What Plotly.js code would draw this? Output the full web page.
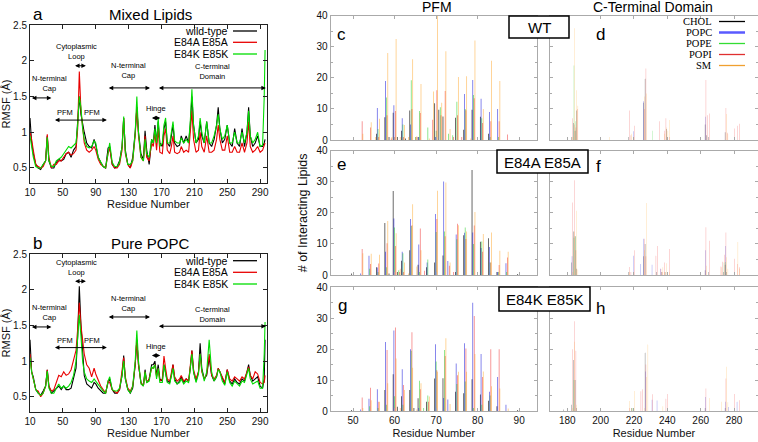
<!DOCTYPE html>
<html><head><meta charset="utf-8">
<script src="https://cdn.plot.ly/plotly-3.0.1.min.js"></script>
<style>html,body{margin:0;padding:0;background:#fff}#chart{width:758px;height:442px}</style>
</head><body><div id="chart"></div>
<script>
// ---------- RMSF line data (panels a, b) ----------
const rmsfResidues = [10,12,14,17,20,23,26,29,31,33,36,39,42,45,48,51,54,57,60,63,66,68,70,72,74,76,79,82,85,88,90,93,96,99,102,105,107,110,113,116,119,122,124,126,129,132,135,138,140,142,145,148,150,152,155,158,160,162,164,166,168,171,173,175,177,180,182,184,186,189,192,194,197,200,203,205,207,209,212,215,217,219,222,225,228,231,234,237,239,241,244,247,250,253,256,259,262,265,268,271,274,276,278,281,284,287,290,293,295,296];
const mixedWT = [1.2,0.85,0.7,0.55,0.5,0.48,0.55,0.6,0.95,0.6, 0.5,0.5,0.58,0.62,0.6,0.62,0.7,0.72,0.65,0.75, 0.8,1.1,1.5,1.25,1.1,1.0,0.85,0.8,0.78,0.9, 0.82,0.65,0.58,0.52,0.5,0.78,0.8,0.55,0.5,0.52, 0.6,0.8,1.2,0.75,0.55,0.5,0.65,1.0,1.35,1.0, 0.7,0.62,1.02,0.75,0.55,0.9,0.85,1.1,0.85,1.15, 0.85,0.8,1.05,1.15,0.85,0.8,0.95,1.1,0.85,0.8, 0.82,0.95,0.85,0.95,0.85,1.1,1.5,1.1,0.85,0.9, 1.15,0.95,0.85,1.15,0.85,0.8,0.9,1.1,1.35,1.05, 0.85,0.9,1.1,0.85,0.8,1.05,0.85,0.8,1.05,0.8, 1.0,1.35,0.95,0.8,0.85,0.95,0.8,0.8,0.85,0.9];
const mixedAA = [1.0,0.9,0.75,0.55,0.52,0.5,0.52,0.6,0.97,0.65, 0.5,0.55,0.55,0.6,0.6,0.65,0.7,0.72,0.68,0.7, 0.75,1.05,1.85,1.3,1.05,0.85,0.75,0.72,0.75,0.8, 0.75,0.62,0.55,0.52,0.5,0.7,0.78,0.55,0.5,0.5, 0.55,0.75,1.2,0.7,0.55,0.5,0.6,0.95,1.35,0.95, 0.65,0.6,0.95,0.65,0.6,0.85,0.8,1.0,0.75,1.05, 0.72,0.7,0.95,1.05,0.75,0.7,0.8,0.95,0.72,0.7, 0.72,0.8,0.72,0.75,0.72,1.0,1.3,0.9,0.72,0.75, 1.0,0.8,0.72,0.95,0.72,0.72,0.75,0.9,1.1,0.9, 0.75,0.75,0.95,0.72,0.72,0.8,0.72,0.72,0.85,0.72, 0.85,1.15,0.8,0.72,0.75,0.8,0.72,0.75,0.8,0.85];
const mixedKK = [0.95,0.8,0.65,0.52,0.5,0.5,0.55,0.6,0.93,0.6, 0.52,0.52,0.6,0.62,0.65,0.7,0.75,0.8,0.78,0.82, 0.85,1.1,1.5,1.35,1.05,0.9,0.8,0.78,0.8,0.88, 0.85,0.65,0.58,0.52,0.5,0.75,0.85,0.58,0.52,0.52, 0.58,0.8,1.22,0.72,0.55,0.55,0.6,1.0,1.5,1.0, 0.65,0.6,0.9,0.7,0.65,0.9,0.85,1.05,0.85,1.2, 0.8,0.85,1.1,1.2,0.85,0.85,1.0,1.15,0.88,0.85, 0.85,0.92,0.85,0.9,0.85,1.15,1.6,1.1,0.85,0.95, 1.2,1.0,0.85,1.15,0.85,0.85,0.95,1.1,1.25,1.05, 0.9,0.95,1.1,0.85,0.85,1.0,0.85,0.85,1.0,0.85, 1.0,1.3,0.95,0.85,0.9,1.0,0.8,0.82,1.5,2.15];
const popcWT = [1.3,0.85,0.78,0.6,0.55,0.52,0.58,0.65,0.88,0.65, 0.55,0.58,0.62,0.65,0.6,0.65,0.6,0.6,0.62,0.75, 0.9,1.35,2.05,1.5,1.05,0.8,0.68,0.65,0.62,0.7, 0.68,0.62,0.58,0.55,0.55,0.7,0.75,0.6,0.55,0.55, 0.6,0.8,1.08,0.75,0.6,0.55,0.62,0.95,1.3,0.95, 0.7,0.65,0.88,0.7,0.75,0.95,0.95,1.0,0.8,0.95, 0.75,0.72,0.95,0.85,0.72,0.7,0.8,0.95,0.75,0.68, 0.72,0.78,0.7,0.75,0.72,0.9,1.15,0.85,0.72,0.85, 1.25,0.9,0.75,0.8,1.05,0.8,0.72,0.78,0.9,0.85, 0.75,0.68,0.88,0.72,0.68,0.75,0.7,0.68,0.75,0.72, 0.85,0.95,0.8,0.72,0.75,0.78,0.65,0.62,0.75,1.3];
const popcAA = [1.1,0.85,0.75,0.6,0.58,0.5,0.55,0.65,0.88,0.65, 0.58,0.6,0.7,0.8,0.78,0.85,0.8,0.82,0.88,1.0, 1.15,1.45,1.82,1.5,1.25,1.1,0.95,0.9,0.78,0.9, 0.82,0.72,0.65,0.6,0.55,0.72,0.7,0.6,0.58,0.55, 0.6,0.85,1.05,0.78,0.62,0.58,0.65,0.95,1.3,0.95, 0.7,0.65,0.85,0.7,0.75,0.9,0.9,0.95,0.78,0.9, 0.72,0.75,1.07,0.9,0.75,0.72,0.85,0.95,0.78,0.72, 0.75,0.8,0.72,0.75,0.72,0.92,1.15,0.88,0.75,0.85, 1.1,0.85,0.75,0.82,1.1,0.8,0.75,0.8,0.9,0.85, 0.78,0.7,0.88,0.75,0.72,0.78,0.75,0.72,0.78,0.75, 0.85,0.92,0.8,0.75,0.85,0.82,0.7,0.68,0.7,0.8];
const popcKK = [1.05,0.85,0.75,0.6,0.55,0.52,0.55,0.65,0.86,0.62, 0.55,0.55,0.62,0.68,0.62,0.65,0.62,0.65,0.7,0.8, 1.0,1.4,1.65,1.35,1.0,0.85,0.75,0.72,0.7,0.75, 0.72,0.68,0.62,0.58,0.55,0.72,0.78,0.6,0.58,0.58, 0.62,0.8,1.0,0.75,0.6,0.55,0.65,1.0,1.43,1.0, 0.68,0.65,0.85,0.7,0.72,0.92,0.9,0.95,0.75,0.9, 0.7,0.7,0.95,0.82,0.7,0.68,0.78,0.9,0.72,0.68, 0.7,0.75,0.68,0.72,0.7,0.88,1.1,0.85,0.7,0.82, 1.1,0.88,0.72,0.85,1.3,0.85,0.72,0.78,0.88,0.85, 0.72,0.66,0.85,0.7,0.65,0.72,0.68,0.65,0.72,0.7, 0.82,0.9,0.75,0.68,0.7,0.72,0.62,0.62,1.1,1.55];
const seriesNames = ['wild-type','E84A E85A','E84K E85K'];

// ---------- Interacting lipids, PFM (residues 50..90) ----------
const pfmResidues = [50,51,52,53,54,55,56,57,58,59,60,61,62,63,64,65,66,67,68,69,70,71,72,73,74,75,76,77,78,79,80,81,82,83,84,85,86,87,88,89,90];
const lipidNames = ['CHOL','POPC','POPE','POPI','SM'];
const wtPfmCHOL = [0,0,0,0,0,0,2,0,7.3,1,8.8,1,3,0.5,9.5,0,1,0,0,0,11.8,9.7,7.6,0,0,7.2,0,3.3,0,9.7,0,7.5,0,2,0,0,0,0,0,0,0];
const wtPfmPOPC = [0,0,0,0,0,0,10.3,0,19,0,11.2,0,7,0,5,0,1,0,0,0,1,0,0,0,0,0,0,14.8,0,19.3,0,13.3,0,9,0,10,0,0,0,0,0];
const wtPfmPOPE = [0,0,0,0,0,0,3.5,0,13.7,0,1,0,5,0,19.2,1,9.3,0,4,0,3,10.5,0,2,1.5,12.3,0,10,0,14.5,0,7,0,1,0,1,0,0,0,0,0];
const wtPfmPOPI = [0,0,6,0,4,0,1,0,8,0.5,9.3,0,1,0,10,1,8.7,0,0,6.5,16,8,15.8,0,1,8,1,9.6,0,13.4,0,5.5,0,6,0,6,0,1.8,0,0,0];
const wtPfmSM   = [0,0,2,0,5.7,1,6.8,0,28,1,32.5,1,4.8,1,26,1.2,18,0,0.5,15.6,40,12,28.6,3.5,0,20.3,0,20.5,0.5,32,0,10,0,25.5,0,19,0,0,0,0,0];
const aaPfmCHOL = [0.5,0,0,0,0,0,2.5,0,16.7,0.5,27,1,4.6,0,8,0,3.3,0,2.5,0,4,0,6.3,0,0,1,0,12.8,0,33.8,0,10.7,0,11.8,0,1,0,0,0,0,0.3];
const aaPfmPOPC = [0,0,0.5,0,6.2,0,2.4,0,7.5,0,18.2,0,7.5,0,18,0,9.8,0,4,0,19.6,0,30.1,4.5,0,13,0,13.6,0,13.7,0,8.7,0,9,0,1,0,3.8,0,0,0];
const aaPfmPOPE = [0,0,0,0,2,0,1,0,2.5,0,15.3,1.5,7,0,15.8,0,1,0,5,0,13.8,0,14,0,0,11.5,0,15.3,0,10,0,10.8,0,4,0,1,0,1,0,0,0];
const aaPfmPOPI = [0,0,8.4,0,3.5,0,3.7,0,10.2,0,9.3,1,1,0,16,0,15,1.4,0,0,18,0,12.5,3,1,16.5,0,11.6,0,15.9,0,7.5,0,4,0,3.2,0,5.6,0,0,0];
const aaPfmSM   = [0,0,7,0,6.8,0,6.5,0,17.4,0,13.4,2,4,0.5,22.8,2.7,8,0,0,0,27.1,0,29.8,4,0,16,0,14,0,20.3,0,13.2,0,13.7,0,7.8,0,7.5,0,0,0];
const kkPfmCHOL = [0.3,0,0,0,0,0,0,0,6.8,0,11.9,1.4,4.8,0,6.8,1,4.1,0,3,0,10.5,0,10.6,0,0,6.2,0,5.7,0,10.3,0,5.3,0,3.3,0,1.5,0,0,0,0,0.3];
const kkPfmPOPC = [0,0,0.5,0,4,0,7,0,22.3,0,26,0,13.5,0,20,0,1,0,0,0,21.6,0,4.2,3.7,0,15.4,0,21.9,0,35,0,18.4,0,6.2,0,11,0,2,0,0,0];
const kkPfmPOPE = [0,0,0,0,1.5,0,1,0,2,0,4.8,0,2,0,19.5,0,9.8,1,5,0,16,0,19.7,0,0,8.7,0,9.5,0,1,0,2,0,5,0,0,0,0,0,0,0];
const kkPfmPOPI = [0,0,4.4,0,7.5,0,3,0,19.7,0,27,0,8.4,0,25.5,0,7,0,3,0,13.2,0,17.8,0,0,11.6,0,20.2,0,30.7,0,11,0,20,0,20,0,0,0,0,0];
const kkPfmSM   = [0,0,1,0,3.5,0,3,0,9,0,17,1,6.8,0,14,0.5,9,0,4.7,0,12.7,0,23.5,2.3,0,12.7,0,12.7,0,18.4,0,12.8,0,8,0,7.3,0,0.8,0,0,0];

// ---------- Interacting lipids, C-terminal domain ----------
const wtCtResidues = [183,184,185,186,205,217,218,220,226,227,231,235,238,239,240,241,263,264,265,275,276,280,282,283];
const wtCtCHOL = [1,5.5,3,9.5,0,1,0,1,12,19.7,0,0,0,0,3.5,0,5,1.5,1,2.5,0,0,0,0];
const wtCtPOPC = [0,0,0,0,0,0,0,2.8,12.5,0,0,0,0,0,0,0,7.5,0,0,0,0,0,0,0];
const wtCtPOPE = [0,24,6,0,0,0,0,0,0,0,3,0,0,0,0,0,0,0,0,0,0,0,0,0];
const wtCtPOPI = [7,5,4,10,0,9.5,1.5,4.6,10,23,0,6,3,7,0,1,19.3,8,8.5,10.3,2.3,3.7,4.6,5.2];
const wtCtSM   = [1,36,16,11,1,0,2,0,14,15,0,0,2,4,3,6.4,0,0,0,8.4,2,0,0,0];
const aaCtResidues = [183,184,185,186,217,218,220,224,226,227,231,233,234,236,237,238,239,241,263,265,272,273,274,275,276,280,282,283];
const aaCtCHOL = [4,14,12.5,2,1,0,0.5,0,6,10,0,0,1,0,1,0,1,0,1.5,1,0,0,1,3.3,1,0,0,0];
const aaCtPOPC = [6,0,0,0,0,0,6.2,3.5,11.7,0,3.3,0,0,2,0,0,0,0,8,0,0,0,0,9.3,0,0,0,0];
const aaCtPOPE = [0,12,12.5,0,0,0,0,0,0,0,0,0,0,0,0,0,0,0,0,0,0,0,4,4.2,0,0,0,0];
const aaCtPOPI = [23.3,30.5,8,0,2.6,1,8,0,11.7,6,0,6.2,9.3,2,1,4,0,8.4,15.4,11,2.7,4.3,6.5,13.7,0,5.2,3.5,2.5];
const aaCtSM   = [1,14,20.7,1.8,1,0,0,0,8,23.2,0,0,0,0,2.5,1,3.8,1,3,0,2.5,0,0,5.7,2,0,10.6,2];
const kkCtResidues = [178,183,184,185,186,217,218,219,220,224,225,226,227,228,231,234,237,239,240,263,265,272,275,276,277,280,282,283];
const kkCtCHOL = [0.5,2,16.5,10,1,0,0,1,0,0,0,0,18.8,0,0,0,0,0,0,1,0,0,1,0,0,0,0,0];
const kkCtPOPC = [0,0,0,0,0,0,0,0,0,0,0,0,12.8,0,3.6,3.4,0,0,0,4.5,0,0,3,0,1.3,0,3,0];
const kkCtPOPE = [0,0,10,0,0,0,0,1,0,0,0,0,0,0,0,0,0,0,0,0,0,0,0,0,0,0,0,0];
const kkCtPOPI = [0,20,29,19.5,0,1,0,0,0,6.4,7,0,15,0,5.4,0,0,4,5.5,7.3,0,0,10.5,0,0,5.5,0,3.5];
const kkCtSM   = [0,1,22.4,2,0,3.2,1,0,6.5,0,0,1,11,21.5,0,0,1.5,0,0,0,4.2,3,14.3,2.8,0,0,0,0];

// ---------- styling helpers ----------
const W = 758, H = 442;
const px = x => x / W, py = y => 1 - y / H;
const SANS = 'Liberation Sans, Arial, Helvetica, sans-serif';
const SERIF = 'Liberation Serif, Times New Roman, serif';
const lineColors = ['#000000', '#e80000', '#00dd00'];
const lipidColors = ['rgba(0,0,0,0.8)', 'rgba(0,0,215,0.65)', 'rgba(0,200,0,0.6)', 'rgba(235,0,0,0.55)', 'rgba(255,150,0,0.55)'];
const legendLineColors = ['#000000', '#5a5aff', '#33dd33', '#e03030', '#f0a030'];

const traces = [];
[[mixedWT, mixedAA, mixedKK, 'x', 'y'], [popcWT, popcAA, popcKK, 'x2', 'y2']].forEach(([s0, s1, s2, xa, ya]) => {
  [s0, s1, s2].forEach((vals, i) => traces.push({
    type: 'scatter', mode: 'lines', x: rmsfResidues, y: vals, name: seriesNames[i],
    xaxis: xa, yaxis: ya, line: {color: lineColors[i], width: 1.1}, showlegend: false, hoverinfo: 'skip'
  }));
});
const barPanels = [
  [pfmResidues, [wtPfmCHOL, wtPfmPOPC, wtPfmPOPE, wtPfmPOPI, wtPfmSM], 'x3', 'y3'],
  [wtCtResidues, [wtCtCHOL, wtCtPOPC, wtCtPOPE, wtCtPOPI, wtCtSM], 'x4', 'y4'],
  [pfmResidues, [aaPfmCHOL, aaPfmPOPC, aaPfmPOPE, aaPfmPOPI, aaPfmSM], 'x5', 'y5'],
  [aaCtResidues, [aaCtCHOL, aaCtPOPC, aaCtPOPE, aaCtPOPI, aaCtSM], 'x6', 'y6'],
  [pfmResidues, [kkPfmCHOL, kkPfmPOPC, kkPfmPOPE, kkPfmPOPI, kkPfmSM], 'x7', 'y7'],
  [kkCtResidues, [kkCtCHOL, kkCtPOPC, kkCtPOPE, kkCtPOPI, kkCtSM], 'x8', 'y8'],
];
barPanels.forEach(([xs, sets, xa, ya]) => {
  sets.forEach((vals, i) => traces.push({
    type: 'bar', x: xs, y: vals, name: lipidNames[i], xaxis: xa, yaxis: ya,
    marker: {color: lipidColors[i], line: {width: 0}}, showlegend: false, hoverinfo: 'skip'
  }));
});

function leftX(dom, anchor, showTitle) {
  return {domain: dom, anchor: anchor, range: [10, 298], tickvals: [10,50,90,130,170,210,250,290],
    ticks: 'inside', ticklen: 4, tickcolor: '#222', showline: true, mirror: 'ticks', linecolor: '#222', linewidth: 1,
    showgrid: false, zeroline: false, tickfont: {family: SANS, size: 10, color: '#111'},
    title: {text: 'Residue Number', font: {family: SANS, size: 11, color: '#111'}, standoff: 3}};
}
function leftY(dom, anchor) {
  return {domain: dom, anchor: anchor, range: [0.29, 2.5], tickvals: [0.5,1,1.5,2,2.5], ticktext: ['0.5','1','1.5','2','2.5'],
    ticks: 'inside', ticklen: 4, tickcolor: '#222', showline: true, mirror: 'ticks', linecolor: '#222', linewidth: 1,
    showgrid: false, zeroline: false, tickfont: {family: SANS, size: 10, color: '#111'},
    title: {text: 'RMSF (Å)', font: {family: SANS, size: 11, color: '#111'}, standoff: 4}};
}
function rightX(dom, anchor, range, vals, labels, title) {
  return {domain: dom, anchor: anchor, range: range, tickvals: vals, showticklabels: labels,
    ticks: 'inside', ticklen: 3, tickcolor: '#aaa', showline: true, mirror: 'ticks', linecolor: '#aaa', linewidth: 1,
    showgrid: false, zeroline: false, tickfont: {family: SANS, size: 10, color: '#111'},
    title: {text: title || '', font: {family: SANS, size: 11, color: '#111'}, standoff: 4}};
}
function rightY(dom, anchor, labels, title) {
  return {domain: dom, anchor: anchor, range: [0, 40], tickvals: [0,10,20,30,40], showticklabels: labels,
    ticks: 'inside', ticklen: 3, tickcolor: '#aaa', showline: true, mirror: 'ticks', linecolor: '#aaa', linewidth: 1,
    minor: {tickvals: [5,15,25,35], ticks: 'inside', ticklen: 2, tickcolor: '#aaa'},
    showgrid: false, zeroline: false, tickfont: {family: SANS, size: 10, color: '#111'},
    title: {text: title || '', font: {family: SANS, size: 12.5, color: '#111'}, standoff: 6}};
}

const leftDom = [px(30), px(266.7)];
const pfmDom = [px(330.7), px(537)];
const ctDom = [px(550.3), px(757.5)];
const pfmRange = [44.6, 94.3], ctRange = [169.8, 294.1];
const pfmTicks = [50,60,70,80,90], ctTicks = [180,200,220,240,260,280];

const layout = {
  width: W, height: H, margin: {l: 0, r: 0, t: 0, b: 0}, paper_bgcolor: '#fff', plot_bgcolor: '#fff',
  barmode: 'group', bargap: 0.12, bargroupgap: 0, showlegend: false,
  font: {family: SANS, color: '#111'},
  xaxis: leftX(leftDom, 'y'), yaxis: leftY([py(183), py(25)], 'x'),
  xaxis2: leftX(leftDom, 'y2'), yaxis2: leftY([py(411.7), py(254.3)], 'x2'),
  xaxis3: rightX(pfmDom, 'y3', pfmRange, pfmTicks, false), yaxis3: rightY([py(140), py(15.7)], 'x3', true),
  xaxis4: rightX(ctDom, 'y4', ctRange, ctTicks, false), yaxis4: rightY([py(140), py(15.7)], 'x4', false),
  xaxis5: rightX(pfmDom, 'y5', pfmRange, pfmTicks, false), yaxis5: rightY([py(275), py(150.7)], 'x5', true, '# of Interacting Lipids'),
  xaxis6: rightX(ctDom, 'y6', ctRange, ctTicks, false), yaxis6: rightY([py(275), py(150.7)], 'x6', false),
  xaxis7: rightX(pfmDom, 'y7', pfmRange, pfmTicks, true, 'Residue Number'), yaxis7: rightY([py(411), py(287.3)], 'x7', true),
  xaxis8: rightX(ctDom, 'y8', ctRange, ctTicks, true, 'Residue Number'), yaxis8: rightY([py(411), py(287.3)], 'x8', false),
  annotations: [], shapes: []
};

function ptext(x, y, text, size, opts) {
  layout.annotations.push(Object.assign({xref: 'paper', yref: 'paper', x: px(x), y: py(y), text: text, showarrow: false,
    xanchor: 'center', yanchor: 'middle', font: {family: SANS, size: size, color: '#000'}}, opts || {}));
}
// panel titles and letters
ptext(38, 14, 'a', 17); ptext(150, 14, 'Mixed Lipids', 15);
ptext(37, 243, 'b', 17); ptext(150, 243, 'Pure POPC', 15);
ptext(437, 7, 'PFM', 14); ptext(653, 7, 'C-Terminal Domain', 14);
ptext(341, 35, 'c', 17); ptext(600, 35, 'd', 17);
ptext(341, 164, 'e', 17); ptext(598, 166, 'f', 17);
ptext(342, 305, 'g', 17); ptext(600, 308, 'h', 17);

// mutant boxes
[[509, 569, 16, 38, 'WT'], [497, 588, 150, 173, 'E84A E85A'], [499, 590, 287, 311, 'E84K E85K']].forEach(([x0, x1, y0, y1, t]) => {
  layout.shapes.push({type: 'rect', xref: 'paper', yref: 'paper', x0: px(x0), x1: px(x1), y0: py(y1), y1: py(y0),
    line: {color: '#000', width: 1.5}, fillcolor: '#fff', layer: 'above'});
  ptext((x0 + x1) / 2, (y0 + y1) / 2 + 0.5, t, 15);
});

// RMSF legends (text left of line sample)
[[31, 42.3, 54], [260.7, 272.3, 284]].forEach(ys => {
  ys.forEach((y, i) => {
    ptext(230, y, seriesNames[i], 10.5, {xanchor: 'right'});
    layout.shapes.push({type: 'line', xref: 'paper', yref: 'paper', x0: px(233), x1: px(257), y0: py(y), y1: py(y),
      line: {color: lineColors[i], width: 1.3}});
  });
});
// lipid legend in panel d
[21.5, 32.5, 43.5, 54.5, 65.5].forEach((y, i) => {
  ptext(714, y, lipidNames[i], 10.5, {xanchor: 'right', font: {family: SERIF, size: 10.5, color: '#000'}});
  layout.shapes.push({type: 'line', xref: 'paper', yref: 'paper', x0: px(719), x1: px(745), y0: py(y), y1: py(y),
    line: {color: legendLineColors[i], width: i === 1 ? 2.5 : 1.3}});
});

// region labels and arrows for RMSF panels
function region(xa, ya, tx, ty, text, x0, x1, ay) {
  layout.annotations.push({xref: xa, yref: ya, x: tx, y: ty, text: text, showarrow: false,
    font: {family: SANS, size: 7.5, color: '#000'}});
  layout.annotations.push({xref: xa, yref: ya, axref: xa, ayref: ya, x: x1, y: ay, ax: x0, ay: ay, text: ' ',
    font: {size: 1}, showarrow: true, arrowside: 'end+start', arrowhead: 2, startarrowhead: 2,
    arrowsize: 0.9, startarrowsize: 0.9, arrowwidth: 1, arrowcolor: '#000', standoff: 0, startstandoff: 0});
}
function regionText(xa, ya, tx, ty, text) {
  layout.annotations.push({xref: xa, yref: ya, x: tx, y: ty, text: text, showarrow: false,
    font: {family: SANS, size: 7.5, color: '#000'}});
}
// panel a
region('x', 'y', 34, 1.68, 'N-terminal<br>Cap', 10.5, 36, 1.48);
region('x', 'y', 67, 2.13, 'Cytoplasmic<br>Loop', 63, 78, 1.93);
regionText('x', 'y', 52.6, 1.28, 'PFM'); regionText('x', 'y', 85, 1.28, 'PFM');
region('x', 'y', 70, 1.17, '', 38.5, 103.5, 1.17);
region('x', 'y', 130, 1.86, 'N-terminal<br>Cap', 104, 156, 1.62);
region('x', 'y', 163, 1.33, 'Hinge', 156.5, 168.5, 1.2);
region('x', 'y', 231.5, 1.85, 'C-terminal<br>Domain', 165, 297, 1.62);
// panel b
region('x2', 'y2', 34, 1.68, 'N-terminal<br>Cap', 10.5, 36, 1.48);
region('x2', 'y2', 67, 2.32, 'Cytoplasmic<br>Loop', 63, 78, 2.12);
regionText('x2', 'y2', 52.6, 1.29, 'PFM'); regionText('x2', 'y2', 85, 1.29, 'PFM');
region('x2', 'y2', 70, 1.19, '', 38.5, 103.5, 1.19);
region('x2', 'y2', 130, 1.81, 'N-terminal<br>Cap', 104, 156, 1.62);
region('x2', 'y2', 163, 1.21, 'Hinge', 156.5, 168.5, 1.08);
region('x2', 'y2', 231.5, 1.66, 'C-terminal<br>Domain', 165, 297, 1.49);

Plotly.newPlot('chart', traces, layout, {staticPlot: true, displayModeBar: false});
</script></body></html>
